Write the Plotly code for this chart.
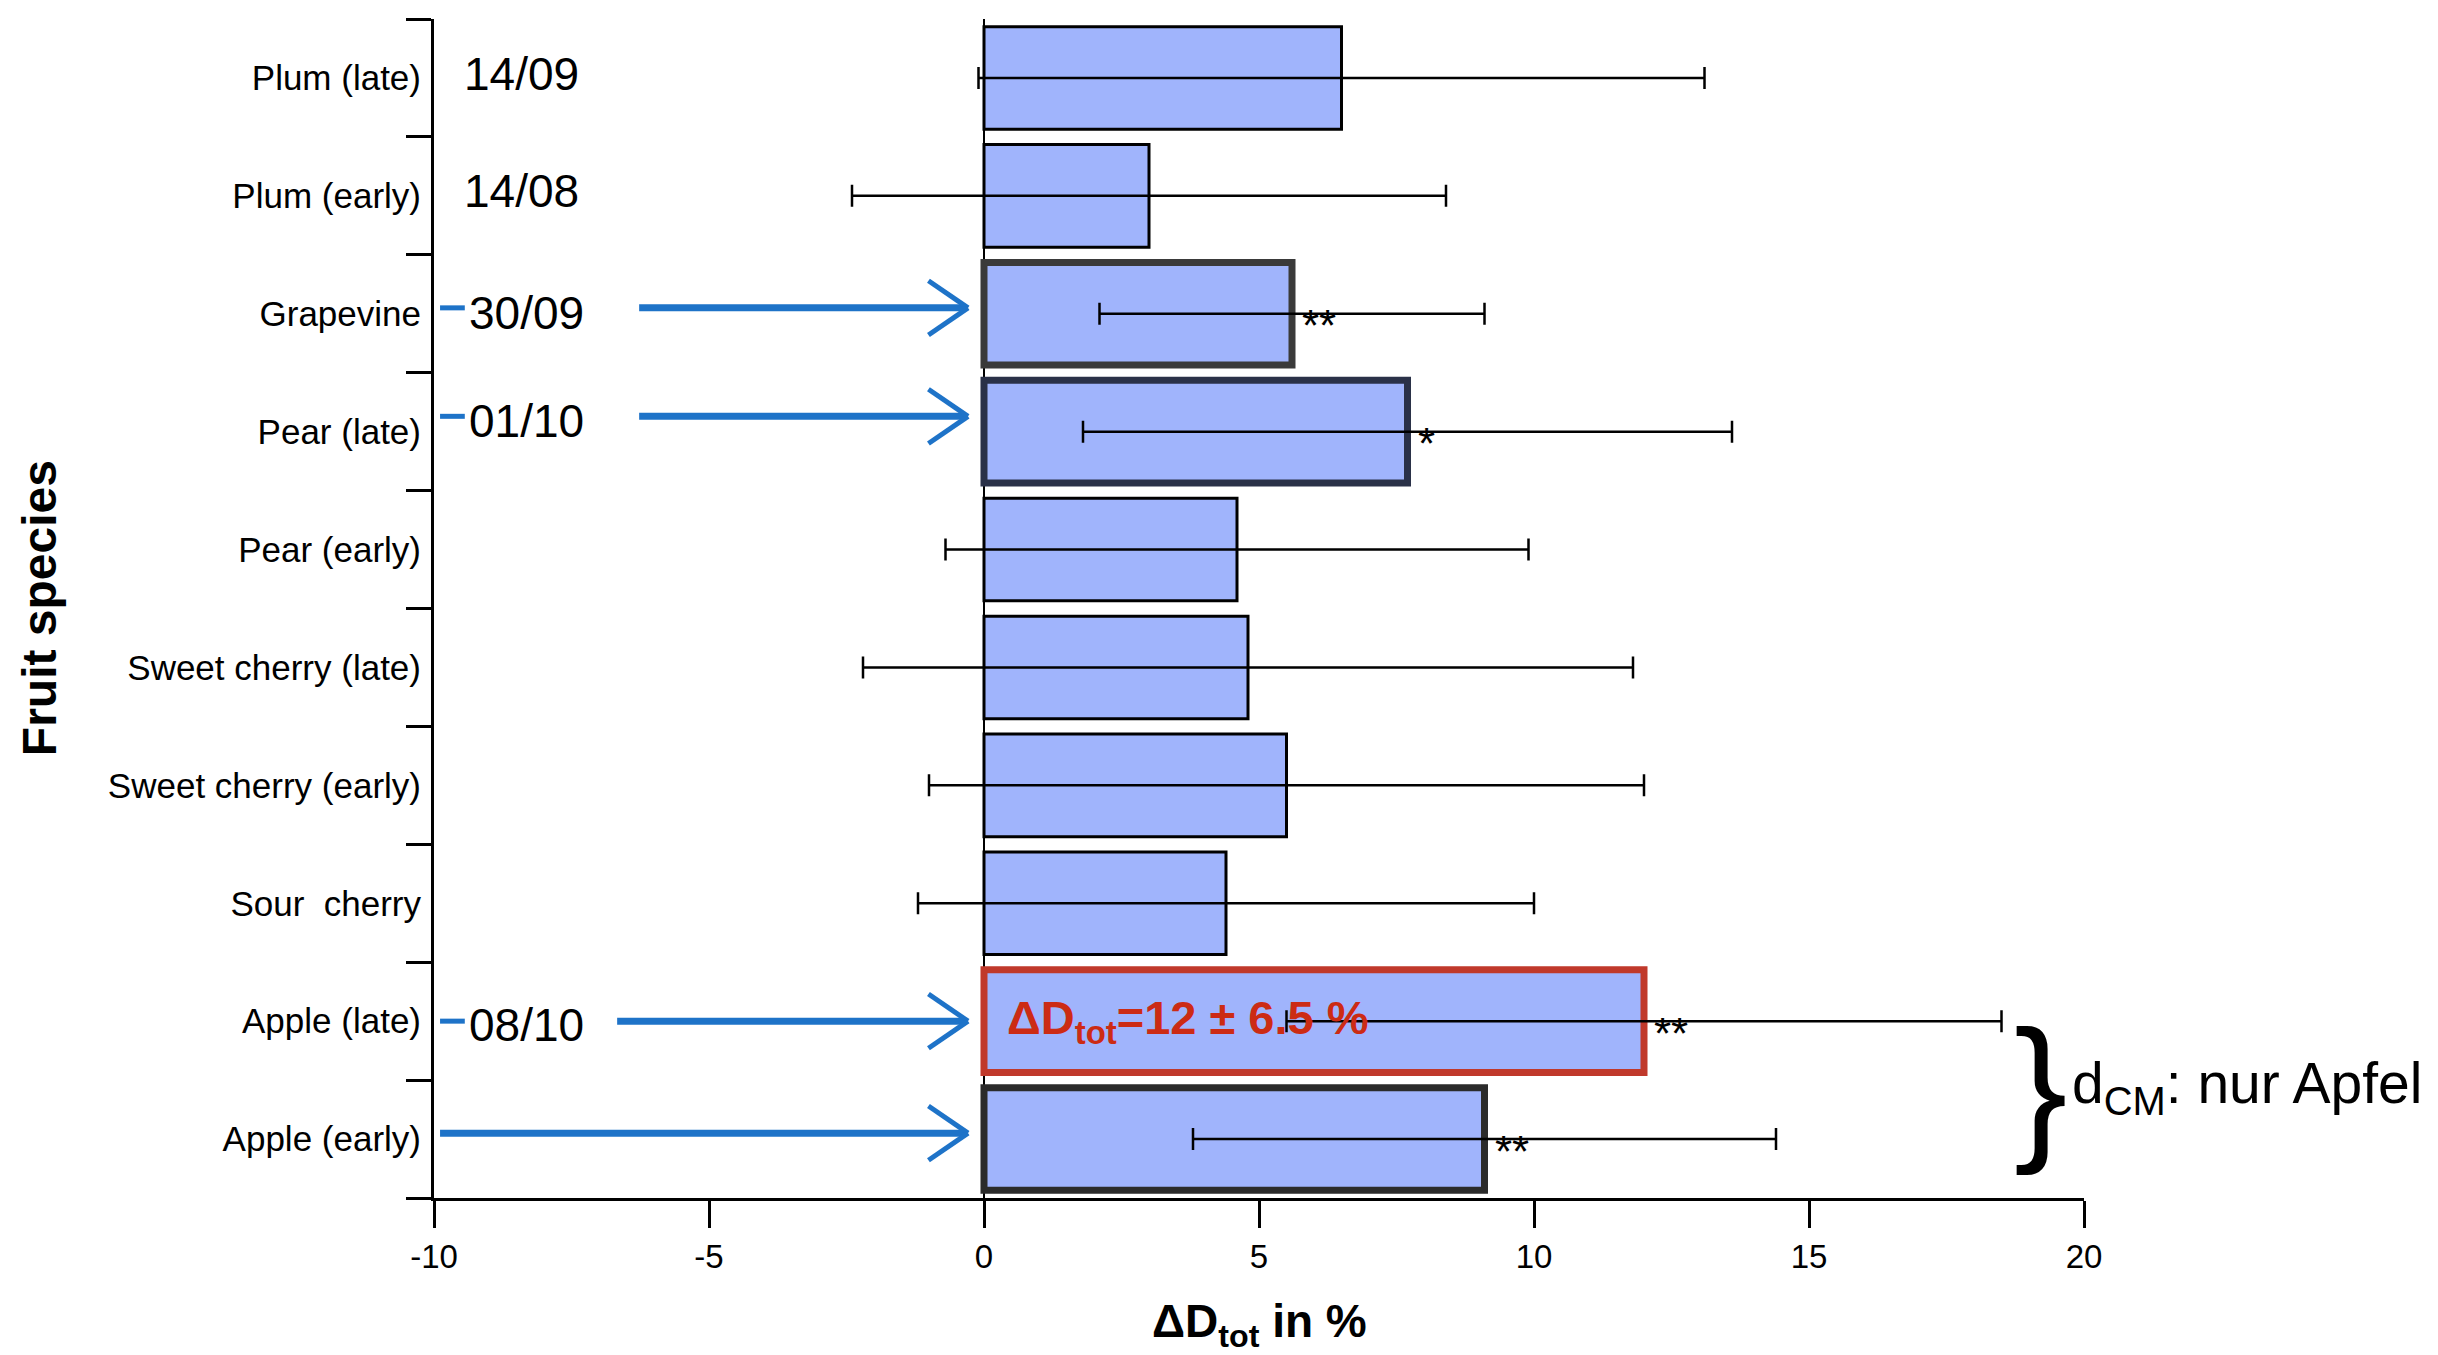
import plotly.graph_objects as go

# ---------------- data ----------------
categories = ["Apple (early)", "Apple (late)", "Sour\u00a0 cherry", "Sweet cherry (early)",
              "Sweet cherry (late)", "Pear (early)", "Pear (late)", "Grapevine",
              "Plum (early)", "Plum (late)"]
delta_d = [9.1, 12.0, 4.4, 5.5, 4.8, 4.6, 7.7, 5.6, 3.0, 6.5]
err = [5.3, 6.5, 5.6, 6.5, 7.0, 5.3, 5.9, 3.5, 5.4, 6.6]
stars = ["**", "**", "", "", "", "", "*", "**", "", ""]
dates = ["", "08/10", "", "", "", "", "01/10", "30/09", "14/08", "14/09"]
x_ticks = [-10, -5, 0, 5, 10, 15, 20]
x_tick_labels = ["-10", "-5", "0", "5", "10", "15", "20"]

# styles
FONT = "Arial, Liberation Sans, sans-serif"
BAR_FILL = "#a0b4fc"
line_colors = ["#2b2b2b", "#c0392b", "black", "black", "black", "black",
               "#2a3148", "#3a3a3a", "black", "black"]
line_widths = [7, 7, 3, 3, 3, 3, 7, 7, 3, 3]
BLUE = "#1e73c8"

fig = go.Figure()
fig.add_trace(go.Bar(
    y=categories, x=delta_d, orientation="h",
    marker=dict(color=BAR_FILL, line=dict(color=line_colors, width=line_widths)),
    error_x=dict(type="data", array=err, visible=True, color="black",
                 thickness=2.5, width=11),
    showlegend=False,
))

annotations = []
# significance stars
for i, s in enumerate(stars):
    if s:
        annotations.append(dict(x=delta_d[i], y=i, xref="x", yref="y", text=s,
                                showarrow=False, xanchor="left", yanchor="middle",
                                xshift=8, yshift=-12,
                                font=dict(family=FONT, size=44, color="black")))

# harvest dates
date_x = {9: -9.49, 8: -9.49, 7: -9.4, 6: -9.4, 1: -9.4}
date_off = {9: 0.03, 8: 0.04, 7: 0.01, 6: 0.09, 1: -0.03}
for i, d in enumerate(dates):
    if d:
        annotations.append(dict(x=date_x[i], y=(i + 0.5 + date_off[i]) / 10,
                                xref="x", yref="paper", text=d, showarrow=False,
                                xanchor="left", yanchor="middle",
                                font=dict(family=FONT, size=46, color="black")))

# red annotation on Apple (late)
annotations.append(dict(x=0.38, y=(1 + 0.5) / 10, xref="x", yref="paper",
                        text="<b>ΔD<sub>tot</sub>=12 ± 6.5 %</b>", showarrow=False,
                        xanchor="left", yanchor="middle",
                        font=dict(family=FONT, size=47, color="#cc2b14")))

# brace and apple note
annotations.append(dict(x=19.2, y=0.0945, xref="x", yref="paper", text="}",
                        showarrow=False, xanchor="center", yanchor="middle",
                        font=dict(family=FONT, size=160, color="black")))
annotations.append(dict(x=19.74, y=0.0945, xref="x", yref="paper",
                        text="d<sub>CM</sub>: nur Apfel", showarrow=False,
                        xanchor="left", yanchor="middle",
                        font=dict(family=FONT, size=57, color="black")))

# axis titles
annotations.append(dict(x=0.5, y=-0.107, xref="paper", yref="paper",
                        text="<b>ΔD<sub>tot</sub> in %</b>", showarrow=False,
                        xanchor="center", yanchor="middle",
                        font=dict(family=FONT, size=46, color="black")))
annotations.append(dict(x=-0.239, y=0.5, xref="paper", yref="paper",
                        text="<b>Fruit species</b>", showarrow=False, textangle=-90,
                        xanchor="center", yanchor="middle",
                        font=dict(family=FONT, size=48, color="black")))

# blue arrows (category index, shaft start, vertical offset, small dash)
arrows = [(7, -6.27, 0.05, True), (6, -6.27, 0.13, True),
          (1, -6.67, 0.0, True), (0, -9.89, 0.05, False)]
shapes = []
tip = -0.29
for idx, xs, off, dash in arrows:
    yc = (idx + 0.5 + off) / 10
    dy = 0.23 / 10
    shapes.append(dict(type="line", xref="x", yref="paper", x0=xs, x1=tip - 0.05,
                       y0=yc, y1=yc, line=dict(color=BLUE, width=7)))
    shapes.append(dict(type="line", xref="x", yref="paper", x0=tip - 0.72, x1=tip,
                       y0=yc + dy, y1=yc, line=dict(color=BLUE, width=5)))
    shapes.append(dict(type="line", xref="x", yref="paper", x0=tip - 0.72, x1=tip,
                       y0=yc - dy, y1=yc, line=dict(color=BLUE, width=5)))
    if dash:
        shapes.append(dict(type="line", xref="x", yref="paper", x0=-9.89, x1=-9.44,
                           y0=yc, y1=yc, line=dict(color=BLUE, width=5)))

fig.update_layout(
    width=2438, height=1355,
    margin=dict(l=434, r=354, t=19, b=157),
    paper_bgcolor="white", plot_bgcolor="white",
    bargap=0.13,
    font=dict(family=FONT, color="black"),
    annotations=annotations, shapes=shapes,
    xaxis=dict(range=[-10, 20], tickvals=x_ticks, ticktext=x_tick_labels,
               ticks="outside", ticklen=27,
               tickwidth=3, tickcolor="black", showline=True, linewidth=3,
               linecolor="black", showgrid=False, zeroline=True,
               zerolinecolor="black", zerolinewidth=2,
               tickfont=dict(family=FONT, size=33, color="black")),
    yaxis=dict(type="category", categoryorder="array", categoryarray=categories,
               range=[-0.5, 9.5], tickson="boundaries", ticks="outside",
               ticklen=25, tickwidth=3, tickcolor="black", showline=True,
               linewidth=3, linecolor="black", showgrid=False,
               ticklabelstandoff=3,
               tickfont=dict(family=FONT, size=35, color="black")),
)

fig.write_html("out.html", config={"displayModeBar": False},
               post_script="document.body.style.margin='0';document.body.style.overflow='hidden';")
